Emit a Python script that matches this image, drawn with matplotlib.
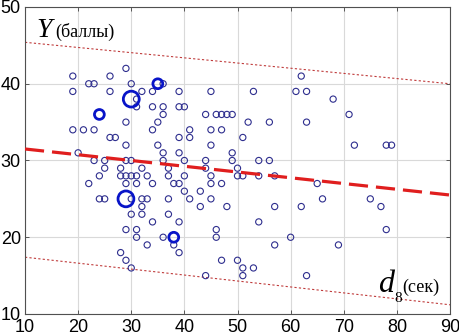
import matplotlib
matplotlib.use('Agg')
import matplotlib.pyplot as plt

# Small circles, grouped by Y value
y42 = [29]
y41 = [19, 26, 62]
y40 = [22, 23, 30, 36]
y39 = [19, 26, 32, 34, 39, 45, 53, 61, 63]
y38 = [31, 68]
y37 = [31, 34, 36, 39, 40]
y36 = [36, 44, 46, 47, 48, 49, 71]
y35 = [29, 35, 52, 56, 63]
y34 = [19, 21, 23, 34, 41, 45, 47]
y33 = [26, 27, 39, 41, 51]
y32 = [29, 35, 45, 72, 78, 79]
y31 = [20, 36, 39, 49]
y30 = [23, 25, 29, 30, 36, 40, 44, 49, 54, 56]
y29 = [25, 28, 32, 37, 44, 50]
y28 = [24, 28, 29, 30, 31, 33, 37, 40, 45, 50, 51, 54, 57]
y27 = [22, 29, 31, 34, 38, 39, 45, 47, 65]
y26 = [40, 43]
y25 = [24, 25, 30, 32, 33, 37, 41, 45, 66, 75]
y24 = [32, 43, 48, 57, 62, 77]
y23 = [30, 32, 37]
y22 = [34, 39, 54]
y21 = [29, 31, 46, 78]
y20 = [31, 36, 46, 60]
y19 = [33, 38, 57, 69]
y18 = [28, 39]
y17 = [29, 47, 50]
y16 = [30, 51, 53]
y15 = [44, 51, 63]

rows = {42: y42, 41: y41, 40: y40, 39: y39, 38: y38, 37: y37, 36: y36,
        35: y35, 34: y34, 33: y33, 32: y32, 31: y31, 30: y30, 29: y29,
        28: y28, 27: y27, 26: y26, 25: y25, 24: y24, 23: y23, 22: y22,
        21: y21, 20: y20, 19: y19, 18: y18, 17: y17, 16: y16, 15: y15}

# Repeated points (drawn as bigger circles)
big_x = [30, 29, 35, 24, 38]
big_y = [38, 25, 40, 36, 20]
big_n = [3, 3, 2, 2, 2]

# Regression line and its band (ends)
line_x = [10, 90]
fit_y = [31.5, 25.5]
upper_y = [45.4, 40.0]
lower_y = [17.4, 11.2]

xs = []
ys = []
for yv, xl in rows.items():
    for xv in xl:
        xs.append(xv)
        ys.append(yv)

fig = plt.figure(figsize=(4.6, 3.35), dpi=100)
ax = fig.add_axes([25/460, 1-314/335, 425/460, 307/335])

ax.grid(True, color='#d9d9d9', linewidth=0.8)
ax.set_axisbelow(True)

ax.plot(line_x, upper_y, color='#c03c3c', linewidth=0.8, linestyle=(0, (2, 2)))
ax.plot(line_x, lower_y, color='#c03c3c', linewidth=0.8, linestyle=(0, (2, 2)))

ax.scatter(xs, ys, s=20, facecolors='none', edgecolors='#2e2e8e', linewidths=0.8, zorder=3)

sizes = [130 if n == 3 else 50 for n in big_n]
ax.scatter(big_x, big_y, s=sizes, facecolors='none', edgecolors='#0814c8', linewidths=2.0, zorder=4)

ax.plot(line_x, fit_y, color='#e01e1e', linewidth=2.3, dashes=(6, 2.5), zorder=5)

ax.set_xlim(10, 90)
ax.set_ylim(10, 50)
ax.set_xticks(range(10, 91, 10))
ax.set_yticks(range(10, 51, 10))
ax.tick_params(labelsize=13, direction='in', length=3, width=0.6, colors='#404040',
               top=True, right=True)
ax.tick_params(axis='x', pad=3.5)
ax.tick_params(axis='y', pad=3)
for lab in ax.get_xticklabels() + ax.get_yticklabels():
    lab.set_fontfamily('Liberation Sans')
    lab.set_color('black')
for sp in ax.spines.values():
    sp.set_color('#505050')
    sp.set_linewidth(0.8)

# Axis captions inside the plot
ax.text(12.2, 46.1, 'Y', family='Liberation Serif', style='italic', fontsize=20)
ax.text(15.6, 46.1, '(баллы)', family='Liberation Serif', fontsize=13)
ax.text(76.4, 12.9, 'd', family='Liberation Serif', style='italic', fontsize=23)
ax.text(79.5, 11.6, '8', family='Liberation Serif', fontsize=11)
ax.text(81.0, 12.9, '(сек)', family='Liberation Serif', fontsize=13)

fig.savefig('out.png', dpi=100)
